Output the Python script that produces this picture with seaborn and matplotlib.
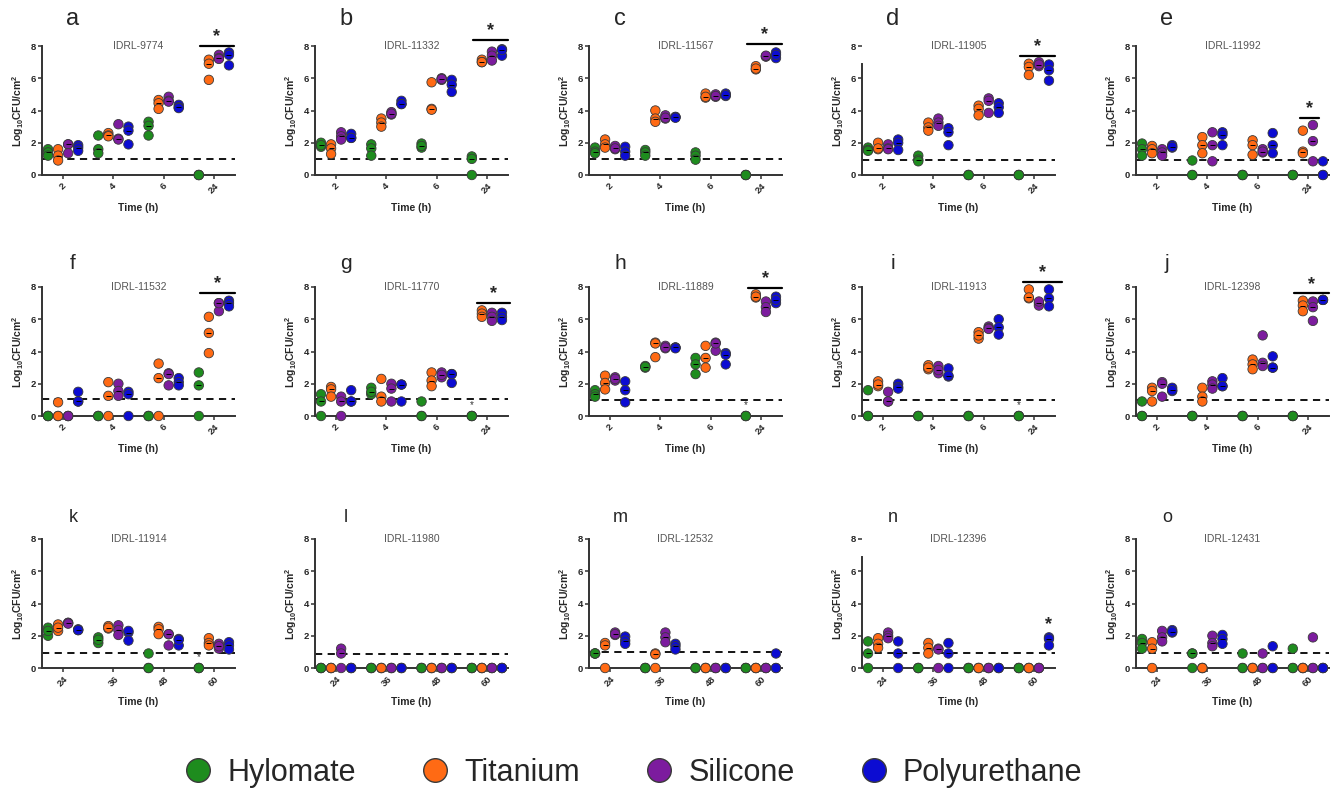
import numpy as np
import pandas as pd
import seaborn as sns
from matplotlib import pyplot as plt
from matplotlib.lines import Line2D

materials = ['Hylomate', 'Titanium', 'Silicone', 'Polyurethane']
colors = ['#1e8c1e', '#ff6a14', '#7c1c9e', '#0c0cd2']
early_times = ['2', '4', '6', '24']
late_times = ['24', '36', '48', '60']

# Log10 CFU/cm2, three replicates per material and time point
idrl_9774 = {
    'Hylomate': [[1.6, 1.4, 1.2], [2.45, 1.6, 1.35], [3.3, 3.05, 2.45], [0, 0, 0]],
    'Titanium': [[1.6, 1.2, 0.9], [2.6, 2.45, 2.4], [4.65, 4.45, 4.1], [7.15, 6.9, 5.9]],
    'Silicone': [[1.9, 1.9, 1.35], [3.15, 2.25, 2.2], [4.85, 4.6, 4.55], [7.45, 7.25, 7.2]],
    'Polyurethane': [[1.85, 1.7, 1.5], [3.0, 2.75, 1.9], [4.35, 4.2, 4.15], [7.6, 7.45, 6.8]],
}
idrl_11332 = {
    'Hylomate': [[2.0, 1.75, 1.85], [1.9, 1.65, 1.2], [1.95, 1.7, 1.8], [1.15, 1.0, 0]],
    'Titanium': [[1.9, 1.65, 1.3], [3.5, 3.25, 3.0], [5.75, 4.1, 4.05], [7.15, 7.0, 7.0]],
    'Silicone': [[2.65, 2.4, 2.2], [3.9, 3.75, 3.8], [6.0, 5.9, 5.95], [7.65, 7.4, 7.1]],
    'Polyurethane': [[2.55, 2.3, 2.3], [4.6, 4.4, 4.4], [5.9, 5.6, 5.15], [7.8, 7.4, 7.75]],
}
idrl_11567 = {
    'Hylomate': [[1.7, 1.45, 1.35], [1.55, 1.4, 1.2], [1.4, 1.2, 0.95], [0, 0, 0]],
    'Titanium': [[2.2, 1.9, 1.7], [4.0, 3.5, 3.3], [5.05, 4.8, 4.85], [6.75, 6.55, 6.6]],
    'Silicone': [[1.8, 1.6, 1.65], [3.7, 3.5, 3.55], [5.0, 4.85, 4.9], [7.35, 7.35, 7.4]],
    'Polyurethane': [[1.75, 1.45, 1.2], [3.6, 3.6, 3.55], [5.05, 4.9, 4.95], [7.6, 7.25, 7.45]],
}
idrl_11905 = {
    'Hylomate': [[1.7, 1.55, 1.5], [1.2, 0.95, 0.85], [0, 0, 0], [0, 0, 0]],
    'Titanium': [[2.0, 1.6, 1.65], [3.25, 2.95, 2.75], [4.3, 4.1, 3.7], [6.9, 6.7, 6.2]],
    'Silicone': [[1.9, 1.65, 1.6], [3.5, 3.25, 3.05], [4.75, 4.6, 3.85], [7.0, 6.75, 6.85]],
    'Polyurethane': [[2.2, 2.0, 1.55], [2.9, 2.65, 1.85], [4.45, 4.2, 3.85], [6.85, 6.5, 5.85]],
}
idrl_11992 = {
    'Hylomate': [[1.95, 1.6, 1.2], [0.9, 0, 0], [0, 0, 0], [0, 0, 0]],
    'Titanium': [[1.8, 1.6, 1.35], [2.35, 1.85, 1.35], [2.15, 1.85, 1.25], [2.75, 1.45, 1.35]],
    'Silicone': [[1.6, 1.4, 1.2], [2.65, 1.85, 0.85], [1.6, 1.4, 1.45], [3.1, 2.1, 0.85]],
    'Polyurethane': [[1.85, 1.7, 1.75], [2.65, 2.5, 1.85], [2.6, 1.85, 1.35], [0.85, 0, 0]],
}
idrl_11532 = {
    'Hylomate': [[0, 0, 0], [0, 0, 0], [0, 0, 0], [2.7, 1.9, 0]],
    'Titanium': [[0.85, 0, 0], [2.1, 1.25, 0], [3.25, 2.35, 0], [6.15, 5.15, 3.9]],
    'Silicone': [[0, 0, 0], [2.0, 1.55, 1.25], [2.65, 2.6, 1.9], [7.0, 6.5, 7.0]],
    'Polyurethane': [[1.5, 0.9, 0.9], [1.5, 1.35, 0], [2.35, 2.1, 1.9], [7.15, 7.0, 6.8]],
}
idrl_11770 = {
    'Hylomate': [[1.35, 0.9, 0], [1.75, 1.35, 1.5], [0.9, 0, 0], [0, 0, 0]],
    'Titanium': [[1.8, 1.65, 1.2], [2.3, 1.2, 0.9], [2.7, 2.2, 1.85], [6.55, 6.35, 6.15]],
    'Silicone': [[1.2, 0.9, 0], [2.0, 1.7, 0.9], [2.7, 2.4, 2.55], [6.4, 6.15, 5.9]],
    'Polyurethane': [[1.6, 0.9, 0.9], [1.95, 0.9, 1.95], [2.6, 2.05, 2.6], [6.4, 6.15, 5.95]],
}
idrl_11889 = {
    'Hylomate': [[1.6, 1.35, 1.2], [3.1, 3.0, 3.05], [3.6, 3.2, 2.6], [0, 0, 0]],
    'Titanium': [[2.5, 2.05, 1.65], [4.55, 3.65, 4.5], [4.35, 3.6, 3.0], [7.55, 7.35, 7.4]],
    'Silicone': [[2.4, 2.2, 2.3], [4.35, 4.2, 4.25], [4.55, 4.05, 4.5], [7.1, 6.75, 6.45]],
    'Polyurethane': [[2.15, 1.6, 0.85], [4.25, 4.25, 4.2], [3.9, 3.8, 3.2], [7.4, 7.0, 7.2]],
}
idrl_11913 = {
    'Hylomate': [[1.6, 0, 0], [0, 0, 0], [0, 0, 0], [0, 0, 0]],
    'Titanium': [[2.15, 1.85, 1.95], [3.15, 2.9, 3.0], [5.2, 4.8, 5.0], [7.85, 7.3, 7.35]],
    'Silicone': [[1.5, 0.9, 0.9], [3.1, 2.65, 2.85], [5.55, 5.45, 5.4], [7.0, 6.85, 7.1]],
    'Polyurethane': [[2.0, 1.8, 1.7], [2.95, 2.45, 2.5], [6.0, 5.5, 5.05], [7.85, 7.3, 6.8]],
}
idrl_12398 = {
    'Hylomate': [[0.9, 0, 0], [0, 0, 0], [0, 0, 0], [0, 0, 0]],
    'Titanium': [[1.75, 1.55, 0.9], [1.75, 1.2, 0.9], [3.5, 3.2, 2.9], [7.15, 6.85, 6.5]],
    'Silicone': [[2.1, 1.2, 2.0], [2.15, 1.95, 1.7], [5.0, 3.3, 3.1], [7.1, 6.75, 5.9]],
    'Polyurethane': [[1.75, 1.55, 1.6], [2.35, 1.85, 1.85], [3.7, 3.0, 3.0], [7.2, 7.2, 7.2]],
}
idrl_11914 = {
    'Hylomate': [[2.5, 2.0, 2.3], [1.9, 1.55, 1.75], [0.9, 0, 0], [0, 0, 0]],
    'Titanium': [[2.7, 2.3, 2.5], [2.6, 2.45, 2.5], [2.55, 2.4, 2.1], [1.85, 1.55, 1.4]],
    'Silicone': [[2.8, 2.8, 2.75], [2.65, 2.35, 2.05], [2.1, 1.4, 2.1], [1.5, 1.2, 1.35]],
    'Polyurethane': [[2.4, 2.35, 2.35], [2.2, 1.7, 2.3], [1.8, 1.4, 1.75], [1.6, 1.4, 1.15]],
}
idrl_11980 = {
    'Hylomate': [[0, 0, 0], [0, 0, 0], [0, 0, 0], [0, 0, 0]],
    'Titanium': [[0, 0, 0], [0, 0, 0], [0, 0, 0], [0, 0, 0]],
    'Silicone': [[1.2, 0.9, 0], [0, 0, 0], [0, 0, 0], [0, 0, 0]],
    'Polyurethane': [[0, 0, 0], [0, 0, 0], [0, 0, 0], [0, 0, 0]],
}
idrl_12532 = {
    'Hylomate': [[0.9, 0.9, 0.9], [0, 0, 0], [0, 0, 0], [0, 0, 0]],
    'Titanium': [[1.55, 1.4, 0], [0.9, 0.85, 0], [0, 0, 0], [0, 0, 0]],
    'Silicone': [[2.2, 2.05, 2.1], [2.2, 1.9, 1.6], [0, 0, 0], [0, 0, 0]],
    'Polyurethane': [[1.95, 1.7, 1.5], [1.5, 1.35, 1.15], [0, 0, 0], [0.9, 0, 0]],
}
idrl_12396 = {
    'Hylomate': [[1.65, 0.9, 0], [0, 0, 0], [0, 0, 0], [0, 0, 0]],
    'Titanium': [[1.85, 1.5, 1.25], [1.55, 1.25, 0.9], [0, 0, 0], [0, 0, 0]],
    'Silicone': [[2.2, 2.0, 1.85], [1.2, 1.15, 0], [0, 0, 0], [0, 0, 0]],
    'Polyurethane': [[1.65, 0.9, 0], [1.55, 0.9, 0], [0, 0, 0], [1.9, 1.8, 1.4]],
}
idrl_12431 = {
    'Hylomate': [[1.8, 1.55, 1.2], [0.9, 0.9, 0], [0.9, 0, 0], [1.2, 0, 0]],
    'Titanium': [[1.6, 1.2, 0], [0, 0, 0], [0, 0, 0], [0, 0, 0]],
    'Silicone': [[2.3, 1.9, 1.65], [2.0, 1.55, 1.35], [0.9, 0, 0], [1.9, 0, 0]],
    'Polyurethane': [[2.35, 2.2, 2.25], [2.05, 1.8, 1.5], [1.35, 0, 0], [0, 0, 0]],
}

strains = ['IDRL-9774', 'IDRL-11332', 'IDRL-11567', 'IDRL-11905', 'IDRL-11992',
           'IDRL-11532', 'IDRL-11770', 'IDRL-11889', 'IDRL-11913', 'IDRL-12398',
           'IDRL-11914', 'IDRL-11980', 'IDRL-12532', 'IDRL-12396', 'IDRL-12431']
panel_data = [idrl_9774, idrl_11332, idrl_11567, idrl_11905, idrl_11992,
              idrl_11532, idrl_11770, idrl_11889, idrl_11913, idrl_12398,
              idrl_11914, idrl_11980, idrl_12532, idrl_12396, idrl_12431]
# detection limit drawn as dashed line
detection_limit = [0.97, 1.0, 0.98, 0.93, 0.9,
                   1.03, 1.04, 0.97, 0.98, 1.0,
                   0.93, 0.89, 0.99, 0.95, 0.94]
# significance bars over the last time point: panel -> (from, to, height)
sig_bars = {0: (-0.28, 0.4, 8.0), 1: (-0.28, 0.42, 8.35), 2: (-0.28, 0.42, 8.1),
            3: (-0.28, 0.42, 7.4), 4: (-0.15, 0.22, 3.55), 5: (-0.28, 0.42, 7.63),
            6: (-0.2, 0.45, 7.0), 7: (-0.25, 0.42, 7.96), 8: (-0.22, 0.55, 8.3),
            9: (-0.28, 0.42, 7.6)}
small_stars = {6: 3, 7: 3, 8: 3, 10: 3}   # panel -> time index (on Hylomate)

sns.set_style('ticks')
plt.rcParams['font.family'] = ['Liberation Sans', 'DejaVu Sans']
plt.rcParams['mathtext.fontset'] = 'custom'
plt.rcParams['mathtext.rm'] = 'Liberation Sans:bold'
plt.rcParams['mathtext.bf'] = 'Liberation Sans:bold'

W, H = 1343, 794
fig = plt.figure(figsize=(W / 100, H / 100), dpi=100)

col_left = [42, 315, 589, 862, 1136]
row_span = [(46, 175), (287, 416), (539, 668)]
letter_size = [17, 15, 13]
letter_off = [1.21, 1.18, 1.17]
ax_w = 193
axis_col = '#333333'


def to_long(d, times):
    rows = []
    for m in materials:
        for t, reps in zip(times, d[m]):
            for v in reps:
                rows.append((t, m, v))
    return pd.DataFrame(rows, columns=['Time', 'Material', 'CFU'])


for k in range(15):
    r, c = divmod(k, 5)
    top, bot = row_span[r]
    ax = fig.add_axes([col_left[c] / W, 1 - bot / H, ax_w / W, (bot - top) / H])
    times = early_times if r < 2 else late_times
    df = to_long(panel_data[k], times)

    ax.axhline(detection_limit[k], color='black', ls=(0, (4, 3)), lw=1.3, zorder=1)
    sns.stripplot(data=df, x='Time', y='CFU', hue='Material', hue_order=materials,
                  order=times, palette=colors, dodge=True, jitter=False, size=6.8,
                  linewidth=0.6, edgecolor='#3a3a3a', legend=False, ax=ax, zorder=3)
    for coll in ax.collections:
        coll.set_clip_on(False)

    # median ticks
    for i, m in enumerate(materials):
        for j, reps in enumerate(panel_data[k][m]):
            xm = j + (i - 1.5) * 0.2
            ax.hlines(np.median(reps), xm - 0.05, xm + 0.05, color='black', lw=0.7, zorder=4)

    ax.set_xlim(-0.42, 3.42)
    ax.set_ylim(0, 8)
    ax.set_yticks([0, 2, 4, 6, 8])
    sns.despine(ax=ax)
    for s in ['left', 'bottom']:
        ax.spines[s].set_linewidth(1.4)
        ax.spines[s].set_color(axis_col)
    if k in (3, 13):
        ax.spines['left'].set_bounds(0, 6.9)
    ax.tick_params(axis='both', length=3, width=1.1, color=axis_col, labelsize=6.8, pad=1.5)
    for lab in ax.get_xticklabels() + ax.get_yticklabels():
        lab.set_fontweight('bold')
    plt.setp(ax.get_xticklabels(), rotation=45, ha='center', va='top')

    ax.set_xlabel('Time (h)', fontsize=7.5, fontweight='bold', labelpad=6)
    ax.set_ylabel(r'Log$_{10}$CFU/cm$^{2}$', fontsize=7.5, fontweight='bold', labelpad=3)
    ax.text(0.5, 1.0, strains[k], transform=ax.transAxes, ha='center', va='center',
            fontsize=7.5, color='#555555')
    ax.text(0.16, letter_off[r], 'abcdefghijklmno'[k], transform=ax.transAxes,
            ha='center', va='center', fontsize=letter_size[r])

    if k in sig_bars:
        x0, x1, yb = sig_bars[k]
        ax.plot([3 + x0, 3 + x1], [yb, yb], color='black', lw=1.6, clip_on=False)
        ax.text(3 + (x0 + x1) / 2, yb + 0.05, '*', ha='center', va='bottom',
                fontsize=13, fontweight='bold')
    if k in small_stars:
        j = small_stars[k]
        ax.text(j - 0.3, 0.35, '*', ha='center', va='bottom', fontsize=7, color='#333333')
    if k == 13:
        ax.text(3.3, 2.15, '*', ha='center', va='bottom', fontsize=13, fontweight='bold')

handles = [Line2D([], [], ls='none', marker='o', markersize=17, markerfacecolor=col,
                  markeredgecolor='#3a3a3a', markeredgewidth=1.0) for col in colors]
fig.legend(handles, materials, loc='center', bbox_to_anchor=(0.471, 1 - 773 / H), ncol=4,
           frameon=False, fontsize=22, handlelength=1.0, handletextpad=0.45,
           columnspacing=2.1)

fig.savefig('out.png', dpi=100)
